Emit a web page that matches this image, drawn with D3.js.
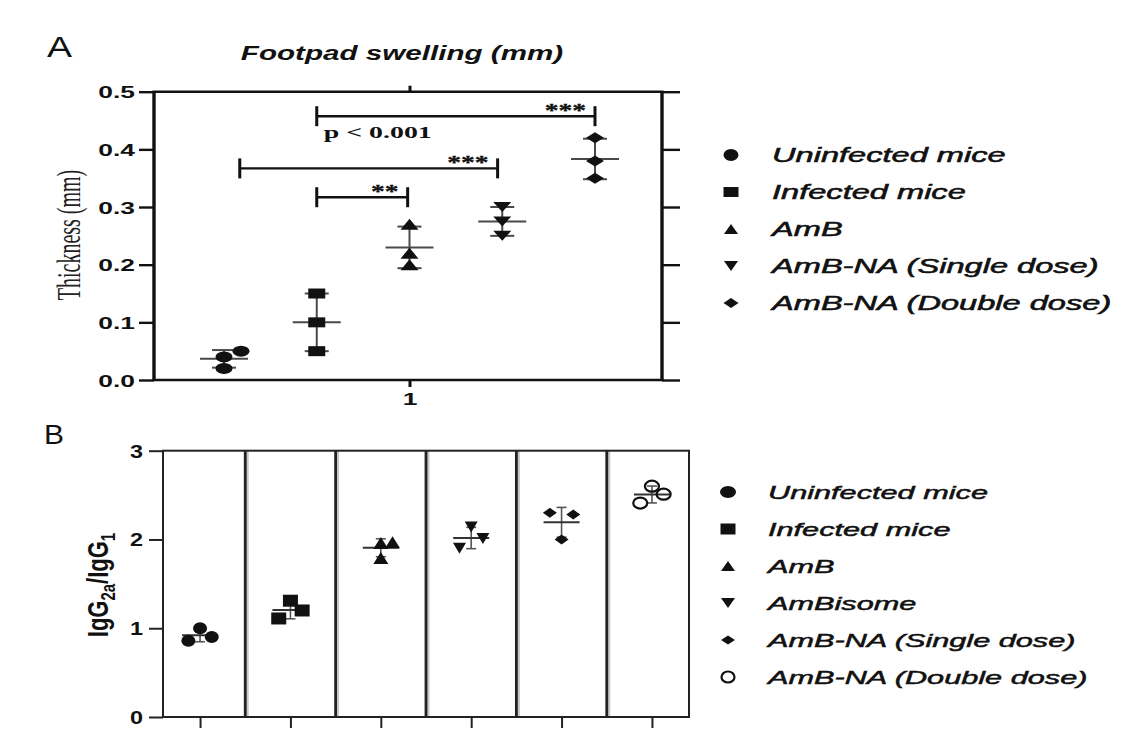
<!DOCTYPE html>
<html><head><meta charset="utf-8">
<script src="https://cdn.jsdelivr.net/npm/d3@7"></script>
<style>body{margin:0;background:#fff}</style>
</head><body><svg id="c" width="1137" height="749"></svg>
<script>
// ---------------- data ----------------
const groupsA = ["Uninfected mice","Infected mice","AmB","AmB-NA (Single dose)","AmB-NA (Double dose)"];
const shapesA = ["circle","square","triangle","triangleDown","diamond"];
const valuesA = [[0.02,0.04,0.05],[0.15,0.10,0.05],[0.27,0.22,0.20],[0.30,0.275,0.25],[0.42,0.38,0.35]];
const slotsA  = [[0,0,1],[0,0,0],[0,0,0],[0,0,0],[0,0,0]];
const ticksA  = [0,0.1,0.2,0.3,0.4,0.5];
const xLabelA = "1";
const titleA  = "Footpad swelling (mm)";
const yTitleA = "Thickness (mm)";
const brackets = [
  {from:1,    to:4,    y:0.4575, label:"***"},
  {from:0.17, to:2.95, y:0.367,  label:"***"},
  {from:1,    to:1.98, y:0.317,  label:"**"}
];
const pText = "p < 0.001";

const groupsB = ["Uninfected mice","Infected mice","AmB","AmBisome","AmB-NA (Single dose)","AmB-NA (Double dose)"];
const shapesB = ["circle","square","triangle","triangleDown","diamond","openCircle"];
const valuesB = [[0.86,1.00,0.90],[1.11,1.31,1.20],[1.79,1.96,1.97],[2.14,1.90,2.01],[2.30,2.28,2.00],[2.60,2.41,2.51]];
const slotsB  = [[-1,0,1],[-1,0,1],[0,0,1],[0,-1,1],[-1,1,0],[0,-1,1]];
const ticksB  = [0,1,2,3];

// ---------------- helpers ----------------
const svg = d3.select("#c");
const INK = "#111";
function shapePath(type, w, h){
  const a=w/2, b=h/2;
  switch(type){
    case "circle": case "openCircle":
      return `M${-a},0A${a},${b} 0 1,0 ${a},0A${a},${b} 0 1,0 ${-a},0Z`;
    case "square": return `M${-a},${-b}h${w}v${h}h${-w}Z`;
    case "triangle": return `M0,${-b}L${a},${b}L${-a},${b}Z`;
    case "triangleDown": return `M0,${b}L${a},${-b}L${-a},${-b}Z`;
    case "diamond": return `M0,${-b}L${a},0L0,${b}L${-a},0Z`;
  }
}
function drawMarker(g, type, x, y, size){
  const [w,h] = size[type];
  g.append("path").attr("d", shapePath(type,w,h))
    .attr("transform",`translate(${x},${y})`)
    .attr("fill", type==="openCircle" ? "none" : INK)
    .attr("stroke", type==="openCircle" ? INK : "none")
    .attr("stroke-width", type==="openCircle" ? 2.2 : 0);
}
function stretchText(g, str, x, y, opts){
  const t = g.append("text").text(str)
    .attr("transform",`translate(${x},${y}) scale(${opts.sx||1},${opts.sy||1})`)
    .attr("font-family", opts.family || "'Liberation Sans', Arial, sans-serif")
    .attr("font-size", opts.size)
    .attr("font-weight", opts.weight || "normal")
    .attr("font-style", opts.style || "normal")
    .attr("text-anchor", opts.anchor || "start")
    .attr("fill", INK);
  if (opts.thick) t.attr("stroke", INK).attr("stroke-width", opts.thick);
  return t;
}

// ================= PANEL A =================
const gA = svg.append("g");
const yA = d3.scaleLinear().domain([0,0.5]).range([380,91.7]);
const xA = d3.scaleLinear().domain([0,groupsA.length-1]).range([224,595]);
const frameA = {l:154, r:662};

stretchText(gA,"A",59.5,57,{size:30,sx:1.25,anchor:"middle"});
stretchText(gA,titleA,402,60,{size:21,sx:1.41,weight:"bold",style:"italic",anchor:"middle"});

// axes (ticks) with D3
const axL = d3.axisLeft(yA).tickValues(ticksA).tickSize(15).tickFormat(d3.format(".1f"));
const gL = gA.append("g").attr("transform",`translate(${frameA.l},0)`).call(axL);
gL.select(".domain").remove();
gL.selectAll(".tick line").attr("stroke",INK).attr("stroke-width",2.4);
gL.selectAll(".tick text").attr("x",null).attr("dy",null)
  .attr("transform","translate(-19,6) scale(1.65,1)")
  .attr("font-family","'Liberation Sans', Arial, sans-serif").attr("font-size",16)
  .attr("font-weight","bold").attr("fill",INK);

const axR = d3.axisRight(yA).tickValues(ticksA).tickSize(18).tickFormat("");
const gR = gA.append("g").attr("transform",`translate(${frameA.r},0)`).call(axR);
gR.select(".domain").remove();
gR.selectAll(".tick line").attr("stroke",INK).attr("stroke-width",2.4);

const axB = d3.axisBottom(xA).tickValues([2]).tickSize(7).tickFormat(()=>xLabelA);
const gBt = gA.append("g").attr("transform",`translate(0,${yA(0)})`).call(axB);
gBt.select(".domain").remove();
gBt.selectAll(".tick line").attr("stroke",INK).attr("stroke-width",3);
gBt.selectAll(".tick text").attr("y",null).attr("dy",null)
  .attr("transform","translate(0,25) scale(1.65,1)")
  .attr("font-family","'Liberation Sans', Arial, sans-serif").attr("font-size",16)
  .attr("font-weight","bold").attr("fill",INK);

const axT = d3.axisTop(xA).tickValues([2]).tickSize(6).tickFormat("");
const gTp = gA.append("g").attr("transform",`translate(0,${yA(0.5)})`).call(axT);
gTp.select(".domain").remove();
gTp.selectAll(".tick line").attr("stroke",INK).attr("stroke-width",3);

// frame
gA.append("line").attr("x1",frameA.l-1.5).attr("x2",frameA.r+1.5).attr("y1",yA(0.5)).attr("y2",yA(0.5)).attr("stroke",INK).attr("stroke-width",2.4);
gA.append("line").attr("x1",frameA.l-1.5).attr("x2",frameA.r+1.5).attr("y1",yA(0)).attr("y2",yA(0)).attr("stroke",INK).attr("stroke-width",2.6);
gA.append("line").attr("x1",frameA.l).attr("x2",frameA.l).attr("y1",yA(0.5)).attr("y2",yA(0)).attr("stroke",INK).attr("stroke-width",3.4);
gA.append("line").attr("x1",frameA.r).attr("x2",frameA.r).attr("y1",yA(0.5)).attr("y2",yA(0)).attr("stroke",INK).attr("stroke-width",3.4);

// y title
stretchText(gA,yTitleA,0,0,{size:20,family:"'Liberation Serif','Times New Roman',serif",anchor:"middle"})
  .attr("fill","#222")
  .attr("transform","translate(80,235) rotate(-90) scale(1,1.66)");

// error bars + points
const sizeA = {circle:[17,11],square:[17,10],triangle:[18,11],triangleDown:[18,10],diamond:[18,11]};
const slotStepA = 17;
valuesA.forEach((vals,i)=>{
  const cx = xA(i);
  const m = d3.mean(vals), sd = d3.deviation(vals);
  const eg = gA.append("g").attr("stroke","#4a4a4a").attr("stroke-width",2);
  eg.append("line").attr("x1",cx).attr("x2",cx).attr("y1",yA(m-sd)).attr("y2",yA(m+sd));
  eg.append("line").attr("x1",cx-12).attr("x2",cx+12).attr("y1",yA(m-sd)).attr("y2",yA(m-sd));
  eg.append("line").attr("x1",cx-12).attr("x2",cx+12).attr("y1",yA(m+sd)).attr("y2",yA(m+sd));
  eg.append("line").attr("x1",cx-24).attr("x2",cx+24).attr("y1",yA(m)).attr("y2",yA(m));
  vals.forEach((v,j)=> drawMarker(gA, shapesA[i], cx + slotsA[i][j]*slotStepA, yA(v), sizeA));
});

// significance brackets
brackets.forEach(b=>{
  const x1=xA(b.from), x2=xA(b.to), y=yA(b.y);
  const bg = gA.append("g").attr("stroke",INK).attr("stroke-width",2.4);
  bg.append("line").attr("x1",x1).attr("x2",x2).attr("y1",y).attr("y2",y);
  bg.append("line").attr("x1",x1).attr("x2",x1).attr("y1",y-10).attr("y2",y+10).attr("stroke-width",3);
  bg.append("line").attr("x1",x2).attr("x2",x2).attr("y1",y-10).attr("y2",y+10).attr("stroke-width",3);
  stretchText(gA,b.label,x2-9,y+1,{size:19,sx:1.45,weight:"bold",thick:0.3,family:"'Liberation Serif','Times New Roman',serif",anchor:"end"});
});
stretchText(gA,pText,xA(brackets[0].from)+7,yA(brackets[0].y)+22,{size:17,sx:1.64,weight:"bold",family:"'Liberation Serif','Times New Roman',serif"});

// legend A
const legA = {x:731, tx:772, y0:155, dy:37};
const legSizeA = {circle:[15,12],square:[15,10],triangle:[14,10],triangleDown:[14,10],diamond:[15,10],openCircle:[14,11]};
groupsA.forEach((g,i)=>{
  const y = legA.y0 + i*legA.dy;
  drawMarker(gA, shapesA[i], legA.x, y, legSizeA);
  stretchText(gA, g, legA.tx, y+7, {size:20, sx:1.63, style:"italic", thick:0.55});
});

// ================= PANEL B =================
const gB = svg.append("g");
const yB = d3.scaleLinear().domain([0,3]).range([717,450.7]);
const xB = d3.scalePoint().domain(groupsB).range([163,689]).padding(0.41);
const frameB = {l:163, r:689};

stretchText(gB,"B",54,444,{size:28,sx:1.07,anchor:"middle"});

// separators between columns
const cx = groupsB.map(g=>xB(g));
const seps = d3.pairs(cx).map(([a,b])=>(a+b)/2);
seps.forEach(s=>{
  gB.append("line").attr("x1",s+1.5).attr("x2",s+1.5).attr("y1",yB(3)).attr("y2",yB(0)).attr("stroke","#c8c8c8").attr("stroke-width",4);
  gB.append("line").attr("x1",s).attr("x2",s).attr("y1",yB(3)).attr("y2",yB(0)).attr("stroke","#222").attr("stroke-width",2.8);
});
gB.append("rect").attr("x",frameB.l).attr("y",yB(3)).attr("width",frameB.r-frameB.l).attr("height",yB(0)-yB(3))
  .attr("fill","none").attr("stroke","#222").attr("stroke-width",2);

const axLB = d3.axisLeft(yB).tickValues(ticksB).tickSize(14).tickFormat(d3.format("d"));
const gLB = gB.append("g").attr("transform",`translate(${frameB.l},0)`).call(axLB);
gLB.select(".domain").remove();
gLB.selectAll(".tick line").attr("stroke","#222").attr("stroke-width",2);
gLB.selectAll(".tick text").attr("x",null).attr("dy",null)
  .attr("transform","translate(-20,6.5) scale(1.3,1)")
  .attr("font-family","'Liberation Sans', Arial, sans-serif").attr("font-size",18)
  .attr("font-weight","bold").attr("fill",INK);

const axBB = d3.axisBottom(xB).tickSize(11).tickFormat("");
const gBB = gB.append("g").attr("transform",`translate(0,${yB(0)})`).call(axBB);
gBB.select(".domain").remove();
gBB.selectAll(".tick line").attr("stroke","#222").attr("stroke-width",2);

// y title B
const yt = gB.append("text").attr("transform","translate(108,585) rotate(-90) scale(1,1.3)")
  .attr("text-anchor","middle").attr("font-family","'Liberation Sans', Arial, sans-serif")
  .attr("font-size",22).attr("font-weight","bold").attr("fill",INK);
yt.append("tspan").text("IgG");
yt.append("tspan").text("2a").attr("font-size",15).attr("dy",5);
yt.append("tspan").text("/IgG").attr("dy",-5);
yt.append("tspan").text("1").attr("font-size",15).attr("dy",5);

// error bars + points B
const sizeB = {circle:[14,12],square:[15,12],triangle:[15,12],triangleDown:[13,11],diamond:[14,10],openCircle:[14,11]};
const slotStepB = 11.7;
valuesB.forEach((vals,i)=>{
  const c = xB(groupsB[i]);
  const m = d3.mean(vals), sd = d3.deviation(vals);
  const eg = gB.append("g").attr("stroke","#555").attr("stroke-width",1.6);
  eg.append("line").attr("x1",c).attr("x2",c).attr("y1",yB(m-sd)).attr("y2",yB(m+sd));
  eg.append("line").attr("x1",c-5).attr("x2",c+5).attr("y1",yB(m-sd)).attr("y2",yB(m-sd));
  eg.append("line").attr("x1",c-5).attr("x2",c+5).attr("y1",yB(m+sd)).attr("y2",yB(m+sd));
  eg.append("line").attr("x1",c-18).attr("x2",c+18).attr("y1",yB(m)).attr("y2",yB(m)).attr("stroke","#333").attr("stroke-width",2);
  vals.forEach((v,j)=> drawMarker(gB, shapesB[i], c + slotsB[i][j]*slotStepB, yB(v), sizeB));
});

// legend B
const legB = {x:728, tx:768, y0:492, dy:37};
const legSizeB = {circle:[16,12],square:[15,11],triangle:[14,10],triangleDown:[14,10],diamond:[14,9],openCircle:[13,11]};
groupsB.forEach((g,i)=>{
  const y = legB.y0 + i*legB.dy;
  drawMarker(gB, shapesB[i], legB.x, y, legSizeB);
  stretchText(gB, g, legB.tx, y+7, {size:19, sx:1.615, style:"italic", thick:0.5});
});
</script></body></html>
